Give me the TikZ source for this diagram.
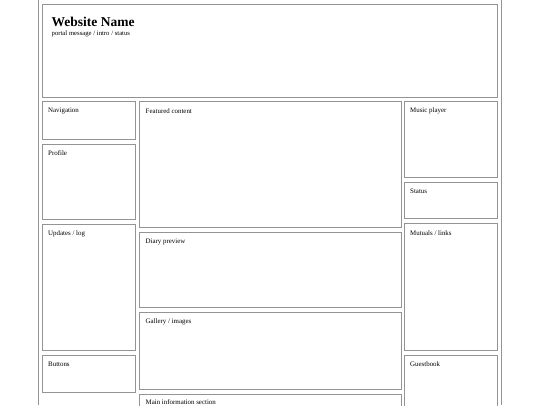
\documentclass[tikz,border=0pt]{standalone}
\usepackage{fontspec}
\setmainfont{Liberation Serif}
\begin{document}
\begin{tikzpicture}[x=1pt, y=-1pt,
    panel/.style ={draw=black!42, line width=1pt},
    tag/.style ={anchor=west, inner sep=0pt, font=\fontsize{6.9}{8}\selectfont}]
   \useasboundingbox (0,0) rectangle (540,405);

   % page container
   \draw[panel] (38,0) -- (38,405);
   \draw[panel] (501,0) -- (501,405);

   % header
   \draw[panel] (42,4) rectangle (497.5,97);
   \node[anchor=base west, inner sep=0pt, font=\fontsize{13.5}{15}\selectfont\bfseries] (title) at (51.5,26.5) {Website Name};
   \node[anchor=base west, inner sep=0pt, font=\fontsize{6.7}{8}\selectfont] (intro) at (51.5,35) {portal message / intro / status};

   % left column
   \draw[panel] (42,101.5) rectangle (135.5,139.5);
   \node[tag] (nav) at (48,111) {Navigation};
   \draw[panel] (42,144) rectangle (135.5,219.5);
   \node[tag] (profile) at (48,153.5) {Profile};
   \draw[panel] (42,224) rectangle (135.5,350);
   \node[tag] (updates) at (48,233.5) {Updates / log};
   \draw[panel] (42,355) rectangle (135.5,392);
   \node[tag] (buttons) at (48,364.5) {Buttons};

   % middle column
   \draw[panel] (139.5,101.5) rectangle (401,227.5);
   \node[tag] (featured) at (145.5,111) {Featured content};
   \draw[panel] (139.5,232) rectangle (401,307.5);
   \node[tag] (diary) at (145.5,241.5) {Diary preview};
   \draw[panel] (139.5,312) rectangle (401,389);
   \node[tag] (gallery) at (145.5,321.5) {Gallery / images};
   \draw[panel] (139.5,394) rectangle (401,440);
   \node[tag] (main) at (145.5,402.3) {Main information section};

   % right column
   \draw[panel] (404,101.5) rectangle (497.5,177);
   \node[tag] (music) at (410,111) {Music player};
   \draw[panel] (404,182) rectangle (497.5,218.5);
   \node[tag] (status) at (410,191.5) {Status};
   \draw[panel] (404,223.5) rectangle (497.5,350);
   \node[tag] (mutuals) at (410,233) {Mutuals / links};
   \draw[panel] (404,355) rectangle (497.5,440);
   \node[tag] (guestbook) at (410,364.5) {Guestbook};
\end{tikzpicture}
\end{document}
